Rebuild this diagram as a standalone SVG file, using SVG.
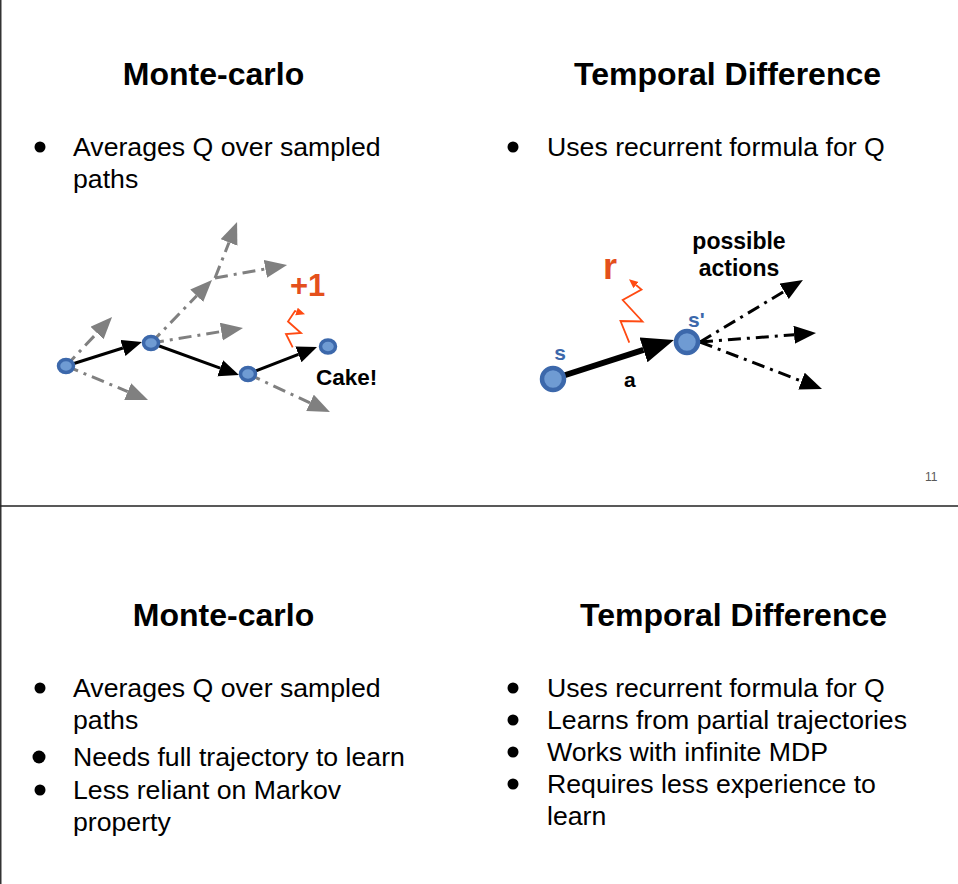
<svg xmlns="http://www.w3.org/2000/svg" width="958" height="884" viewBox="0 0 958 884">
  <style>
    .title { font-family: "Liberation Sans", Arial, sans-serif; font-weight: bold; font-size: 32px; fill: #000; text-anchor: middle; }
    .body { font-family: "Liberation Sans", Arial, sans-serif; font-size: 26.67px; fill: #000; }
    .lbl { font-family: "Liberation Sans", Arial, sans-serif; font-weight: bold; fill: #000; }
    .blue { fill: #3c68ab; }
    .reward { fill: #e4501c; }
    .dot { fill: #000; }
    .node { fill: #6f9bd3; stroke: #3c68ab; }
    .small { stroke-width: 3.5; }
    .big { stroke-width: 4.5; }
    .gray { stroke: #808080; stroke-width: 3; fill: none; stroke-dasharray: 13 6 3 6; }
    .blk { stroke: #000; stroke-width: 3; fill: none; }
    .blkdash { stroke: #000; stroke-width: 3; fill: none; stroke-dasharray: 13 6 3 6; }
    .zig { stroke: #ff4a12; stroke-width: 1.8; fill: none; stroke-linejoin: miter; }
  </style>
  <defs>
    <marker id="headGray" markerUnits="userSpaceOnUse" markerWidth="24" markerHeight="20" refX="0" refY="9" orient="auto">
      <path d="M0,0 L22,9 L0,18 z" fill="#808080"/>
    </marker>
    <marker id="headBlack" markerUnits="userSpaceOnUse" markerWidth="22" markerHeight="18" refX="0" refY="8.5" orient="auto">
      <path d="M0,0 L20,8.5 L0,17 z" fill="#000"/>
    </marker>
    <marker id="headAction" markerUnits="userSpaceOnUse" markerWidth="24" markerHeight="20" refX="0" refY="9" orient="auto">
      <path d="M0,0 L22,9 L0,18 z" fill="#000"/>
    </marker>
    <marker id="headBig" markerUnits="userSpaceOnUse" markerWidth="34" markerHeight="28" refX="0" refY="13" orient="auto">
      <path d="M0,0 L32,13 L0,26 z" fill="#000"/>
    </marker>
    <marker id="headRed" markerUnits="userSpaceOnUse" markerWidth="12" markerHeight="10" refX="0" refY="4" orient="auto">
      <path d="M0,0 L9,4 L0,8 z" fill="#ff4a12"/>
    </marker>
  </defs>

  <!-- page frame -->
  <line x1="0.75" y1="0" x2="0.75" y2="884" stroke="#333" stroke-width="1.5"/>
  <line x1="0" y1="506" x2="958" y2="506" stroke="#222" stroke-width="1.5"/>

  <!-- upper slide -->
  <g id="slide-top">
    <text class="title" x="213.5" y="85">Monte-carlo</text>
    <text class="title" x="727.5" y="85">Temporal Difference</text>
    <circle class="dot" cx="40" cy="147" r="5.5"/>
    <text class="body" x="73" y="156">Averages Q over sampled</text>
    <text class="body" x="73" y="188">paths</text>
    <circle class="dot" cx="513" cy="147" r="5.5"/>
    <text class="body" x="547" y="156">Uses recurrent formula for Q</text>
    <text x="925" y="481" font-family="'Liberation Sans', Arial, sans-serif" font-size="12" fill="#595959">11</text>
  </g>

  <!-- Monte-carlo sampled paths -->
  <g id="mc-connectors">
    <line class="gray" x1="66" y1="366" x2="97" y2="333" marker-end="url(#headGray)"/>
    <line class="gray" x1="66" y1="366" x2="127.7" y2="391.6" marker-end="url(#headGray)"/>
    <line class="gray" x1="151" y1="343" x2="196.7" y2="295.8" marker-end="url(#headGray)"/>
    <line class="gray" x1="215" y1="278" x2="229" y2="242.5" marker-end="url(#headGray)"/>
    <line class="gray" x1="215" y1="278" x2="265.4" y2="268.9" marker-end="url(#headGray)"/>
    <line class="gray" x1="151" y1="343" x2="221.3" y2="331.5" marker-end="url(#headGray)"/>
    <line class="gray" x1="248" y1="374" x2="310" y2="402.8" marker-end="url(#headGray)"/>
    <line class="blk" x1="66" y1="366" x2="122.9" y2="348" marker-end="url(#headBlack)"/>
    <line class="blk" x1="151" y1="343" x2="220.2" y2="368.2" marker-end="url(#headBlack)"/>
    <line class="blk" x1="248" y1="374" x2="298.4" y2="354.3" marker-end="url(#headBlack)"/>
    <polyline class="zig" points="292.7,347.3 286,334 301,333 288,321.5 295,311 296.5,311.5" marker-end="url(#headRed)"/>
  </g>
  <g id="mc-s0"><ellipse class="node small" cx="66" cy="366" rx="7.5" ry="6.5"/></g>
  <g id="mc-s1"><ellipse class="node small" cx="151" cy="343" rx="7.5" ry="6.5"/></g>
  <g id="mc-s2"><ellipse class="node small" cx="248" cy="374" rx="7.5" ry="6.5"/></g>
  <g id="mc-cake">
    <ellipse class="node small" cx="328" cy="346.5" rx="7.5" ry="6.5"/>
    <text class="lbl" x="316" y="385" font-size="22.5">Cake!</text>
  </g>
  <text class="lbl reward" x="290" y="296" font-size="31">+1</text>

  <!-- Temporal difference step -->
  <g id="td-connectors">
    <line stroke="#000" stroke-width="6" x1="553" y1="379" x2="643.5" y2="349.8" marker-end="url(#headBig)"/>
    <line class="blkdash" x1="700" y1="342" x2="784.1" y2="291.4" marker-end="url(#headAction)"/>
    <line class="blkdash" x1="700" y1="342" x2="794.1" y2="334.7" marker-end="url(#headAction)"/>
    <line class="blkdash" x1="700" y1="342" x2="801.5" y2="381.1" marker-end="url(#headAction)"/>
    <polyline class="zig" points="629.3,342.7 620.5,321 642.5,321.5 622.7,300 641.5,289.5 636,285" marker-end="url(#headRed)"/>
  </g>
  <g id="td-s">
    <circle class="node big" cx="553" cy="379" r="11"/>
    <text class="lbl blue" x="560" y="360" font-size="21" text-anchor="middle">s</text>
  </g>
  <g id="td-s-next">
    <circle class="node big" cx="687" cy="342" r="11"/>
    <text class="lbl blue" x="688" y="327" font-size="21">s'</text>
  </g>
  <text class="lbl" x="624" y="387" font-size="21">a</text>
  <text class="lbl reward" x="603" y="279" font-size="36">r</text>
  <text class="lbl" x="739" y="249" font-size="23" text-anchor="middle">possible</text>
  <text class="lbl" x="739" y="276" font-size="23" text-anchor="middle">actions</text>

  <!-- lower slide -->
  <g id="slide-bottom">
    <text class="title" x="223.5" y="626">Monte-carlo</text>
    <text class="title" x="733.5" y="626">Temporal Difference</text>

    <circle class="dot" cx="40" cy="688" r="5.5"/>
    <text class="body" x="73" y="697">Averages Q over sampled</text>
    <text class="body" x="73" y="729">paths</text>
    <circle class="dot" cx="39" cy="757" r="6.5"/>
    <text class="body" x="73" y="766">Needs full trajectory to learn</text>
    <circle class="dot" cx="40" cy="790" r="5.5"/>
    <text class="body" x="73" y="799">Less reliant on Markov</text>
    <text class="body" x="73" y="831">property</text>

    <circle class="dot" cx="513" cy="688" r="5.5"/>
    <text class="body" x="547" y="697">Uses recurrent formula for Q</text>
    <circle class="dot" cx="513" cy="720" r="5.5"/>
    <text class="body" x="547" y="729">Learns from partial trajectories</text>
    <circle class="dot" cx="513" cy="752" r="5.5"/>
    <text class="body" x="547" y="761">Works with infinite MDP</text>
    <circle class="dot" cx="513" cy="784" r="5.5"/>
    <text class="body" x="547" y="793">Requires less experience to</text>
    <text class="body" x="547" y="825">learn</text>
  </g>
</svg>
